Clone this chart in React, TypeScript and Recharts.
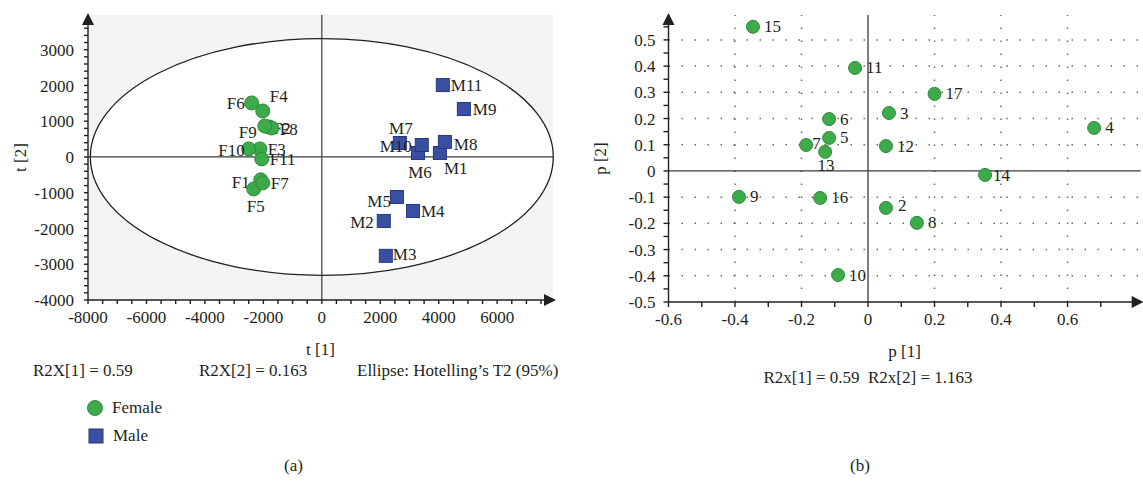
import React from 'react'
import {
  ScatterChart,
  Scatter,
  XAxis,
  YAxis,
  ReferenceLine,
  ReferenceArea,
  ReferenceDot,
} from 'recharts'

// (a) score plot, t[1] / t[2]
const femaleNames = ['F1', 'F2', 'F3', 'F4', 'F5', 'F6', 'F7', 'F8', 'F9', 'F10', 'F11']
const femaleT1 = [-2090, -1815, -2120, -2020, -2330, -2400, -2020, -1710, -1950, -2500, -2055]
const femaleT2 = [-640, 840, 225, 1285, -895, 1510, -725, 810, 865, 225, -55]

const maleNames = ['M1', 'M2', 'M3', 'M4', 'M5', 'M6', 'M7', 'M8', 'M9', 'M10', 'M11']
const maleT1 = [4040, 2120, 2190, 3120, 2570, 3290, 2670, 4210, 4860, 3420, 4140]
const maleT2 = [110, -1790, -2765, -1510, -1120, 110, 390, 420, 1340, 335, 2010]

// (b) loading plot, p[1] / p[2]
const varNames = ['2', '3', '4', '5', '6', '7', '8', '9', '10', '11', '12', '13', '14', '15', '16', '17']
const varP1 = [0.054, 0.063, 0.68, -0.117, -0.117, -0.186, 0.147, -0.388, -0.09, -0.039, 0.054, -0.129, 0.352, -0.346, -0.144, 0.2]
const varP2 = [-0.141, 0.221, 0.164, 0.126, 0.198, 0.099, -0.198, -0.099, -0.397, 0.393, 0.095, 0.073, -0.015, 0.55, -0.103, 0.294]

const scoreXLabels = [-8000, -6000, -4000, -2000, 0, 2000, 4000, 6000]
const scoreYLabels = [-4000, -3000, -2000, -1000, 0, 1000, 2000, 3000]
const loadXLabels = [-0.6, -0.4, -0.2, 0, 0.2, 0.4, 0.6]
const loadYLabels = [-0.5, -0.4, -0.3, -0.2, -0.1, 0, 0.1, 0.2, 0.3, 0.4, 0.5]
const loadGridX = [-0.4, -0.2, 0.2, 0.4, 0.6]
const loadGridY = [-0.4, -0.3, -0.2, -0.1, 0.1, 0.2, 0.3, 0.4, 0.5]

// label placement next to each mark: [dx, dy, anchor]
type Place = [number, number, 'start' | 'middle' | 'end']
const scorePlace: Record<string, Place> = {
  F1: [-11, 3, 'end'], F2: [4, 2, 'start'], F3: [8, 1, 'start'], F4: [7, -15, 'start'],
  F5: [2, 18, 'middle'], F6: [-7, 1, 'end'], F7: [8, 1, 'start'], F8: [8, 2, 'start'],
  F9: [-8, 6, 'end'], F10: [-4, 2, 'end'], F11: [8, 1, 'start'],
  M1: [4, 15, 'start'], M2: [-10, 2, 'end'], M3: [7, -1, 'start'], M4: [8, 1, 'start'],
  M5: [-6, 4, 'end'], M6: [2, 19, 'middle'], M7: [1, -15, 'middle'], M8: [9, 3, 'start'],
  M9: [9, 0, 'start'], M10: [-10, 2, 'end'], M11: [8, 0, 'start'],
}
const loadPlace: Record<string, Place> = {
  '13': [1, 14, 'middle'], '7': [6, -2, 'start'], '14': [8, 1, 'start'], '2': [12, -2, 'start'],
}

const INK = '#231f20'
const GREEN = '#3dab4a'
const GREEN_EDGE = '#2e8a3c'
const BLUE = '#3b4fa2'
const BLUE_EDGE = '#26377f'
const FONT = '"Liberation Serif", "DejaVu Serif", serif'

const minorTicks = (lo: number, hi: number, step: number) => {
  const out: number[] = []
  for (let v = lo; v <= hi + step / 10; v += step) out.push(Math.round(v * 1000) / 1000)
  return out
}

const scoreFemale = femaleNames.map((name, i) => ({ name, x: femaleT1[i], y: femaleT2[i] }))
const scoreMale = maleNames.map((name, i) => ({ name, x: maleT1[i], y: maleT2[i] }))
const loadings = varNames.map((name, i) => ({ name, x: varP1[i], y: varP2[i] }))

const PointLabel = ({ cx, cy, name, place }: { cx: number; cy: number; name: string; place: Place }) => (
  <text
    x={cx + place[0]}
    y={cy + place[1]}
    textAnchor={place[2]}
    dominantBaseline="central"
    fontFamily={FONT}
    fontSize={17}
    fill={INK}
  >
    {name}
  </text>
)

const circleShape = (r: number, places: Record<string, Place>, fallback: Place) => (props: any) => {
  const { cx, cy, payload } = props
  const place = places[payload.name] || fallback
  return (
    <g>
      <circle cx={cx} cy={cy} r={r} fill={GREEN} stroke={GREEN_EDGE} strokeWidth={1} />
      <PointLabel cx={cx} cy={cy} name={payload.name} place={place} />
    </g>
  )
}

const squareShape = (props: any) => {
  const { cx, cy, payload } = props
  return (
    <g>
      <rect x={cx - 6.5} y={cy - 6.5} width={13} height={13} fill={BLUE} stroke={BLUE_EDGE} strokeWidth={1} />
      <PointLabel cx={cx} cy={cy} name={payload.name} place={scorePlace[payload.name]} />
    </g>
  )
}

const makeTick = (labels: number[], axis: 'x' | 'y', fmt: (v: number) => string) => (props: any) => {
  const { x, y, payload } = props
  if (!labels.some((l) => Math.abs(l - payload.value) < 1e-6)) return <g />
  return (
    <text
      x={x}
      y={y}
      dy={axis === 'x' ? '0.75em' : '0.36em'}
      textAnchor={axis === 'x' ? 'middle' : 'end'}
      fontFamily={FONT}
      fontSize={17}
      fill={INK}
    >
      {fmt(payload.value)}
    </text>
  )
}

const upArrow = (props: any) => (
  <polygon points={`${props.cx},${props.cy - 2} ${props.cx - 6},${props.cy + 10} ${props.cx + 6},${props.cy + 10}`} fill={INK} />
)
const rightArrow = (props: any) => (
  <polygon points={`${props.cx + 3},${props.cy} ${props.cx - 9},${props.cy - 6} ${props.cx - 9},${props.cy + 6}`} fill={INK} />
)

const ellipseShape = (props: any) => {
  const { x, y, width, height } = props
  return (
    <ellipse cx={x + width / 2} cy={y + height / 2} rx={width / 2} ry={height / 2} fill="#ffffff" stroke={INK} strokeWidth={1.3} />
  )
}

const yTitle = (text: string) => (props: any) => {
  const vb = props.viewBox
  const cx = vb.x + 12
  const cy = vb.y + vb.height / 2
  return (
    <text x={cx} y={cy} transform={`rotate(-90 ${cx} ${cy})`} textAnchor="middle" dominantBaseline="central" fontFamily={FONT} fontSize={17} fill={INK}>
      {text}
    </text>
  )
}
const xTitle = (text: string) => (props: any) => {
  const vb = props.viewBox
  return (
    <text x={vb.x + vb.width / 2} y={vb.y + 55} textAnchor="middle" fontFamily={FONT} fontSize={17} fill={INK}>
      {text}
    </text>
  )
}

const caption: React.CSSProperties = {
  position: 'absolute',
  fontFamily: FONT,
  fontSize: 17,
  color: INK,
  lineHeight: '20px',
  whiteSpace: 'pre',
}

const axisLine = { stroke: INK, strokeWidth: 1.4 }

export default function App() {
  const sXMin = -8000
  const sXMax = 7910
  const sYMin = -4000
  const sYMax = 3970
  const lXMin = -0.6
  const lXMax = 0.82
  const lYMin = -0.5
  const lYMax = 0.595

  return (
    <div style={{ position: 'absolute', left: 0, top: 0, width: 1143, height: 481, background: '#fff' }}>
      <div style={{ position: 'absolute', left: 0, top: 0 }}>
        <ScatterChart width={570} height={481} margin={{ top: 15, right: 17, bottom: 121, left: 8 }}>
          <XAxis
            type="number"
            dataKey="x"
            domain={[sXMin, sXMax]}
            allowDataOverflow
            ticks={minorTicks(-8000, 7500, 500)}
            interval={0}
            tick={makeTick(scoreXLabels, 'x', (v) => String(v))}
            tickSize={4}
            tickMargin={6}
            tickLine={axisLine}
            axisLine={axisLine}
            height={60}
            label={{ content: xTitle('t [1]') }}
          />
          <YAxis
            type="number"
            dataKey="y"
            domain={[sYMin, sYMax]}
            allowDataOverflow
            ticks={minorTicks(-4000, 3800, 200)}
            interval={0}
            tick={makeTick(scoreYLabels, 'y', (v) => String(v))}
            tickSize={4}
            tickMargin={10}
            tickLine={axisLine}
            axisLine={axisLine}
            width={80}
            label={{ content: yTitle('t [2]') }}
          />
          <ReferenceArea x1={sXMin} x2={sXMax} y1={sYMin} y2={sYMax} fill="#f3f5f5" fillOpacity={1} stroke="none" ifOverflow="visible" />
          <ReferenceArea x1={-7920} x2={7920} y1={-3310} y2={3310} shape={ellipseShape} ifOverflow="visible" />
          <ReferenceLine y={0} stroke="#3a3a3a" strokeWidth={1.2} />
          <ReferenceLine x={0} stroke="#3a3a3a" strokeWidth={1.2} />
          <ReferenceDot x={sXMin} y={sYMax} shape={upArrow} ifOverflow="visible" />
          <ReferenceDot x={sXMax} y={sYMin} shape={rightArrow} ifOverflow="visible" />
          <Scatter name="Female" data={scoreFemale} shape={circleShape(7, scorePlace, [8, 0, 'start'])} isAnimationActive={false} />
          <Scatter name="Male" data={scoreMale} shape={squareShape} isAnimationActive={false} />
        </ScatterChart>
      </div>

      <div style={{ ...caption, left: 33, top: 361 }}>R2X[1] = 0.59</div>
      <div style={{ ...caption, left: 199, top: 361 }}>R2X[2] = 0.163</div>
      <div style={{ ...caption, left: 357, top: 361 }}>Ellipse: Hotelling’s T2 (95%)</div>

      <div style={{ position: 'absolute', left: 86, top: 394, fontFamily: FONT, fontSize: 17, color: INK }}>
        <div style={{ display: 'flex', alignItems: 'center', height: 28 }}>
          <svg width={18} height={18} style={{ marginRight: 8 }}>
            <circle cx={9} cy={9} r={7.5} fill={GREEN} stroke={GREEN_EDGE} />
          </svg>
          Female
        </div>
        <div style={{ display: 'flex', alignItems: 'center', height: 28 }}>
          <svg width={18} height={18} style={{ marginRight: 9 }}>
            <rect x={3} y={2} width={14} height={14} fill={BLUE} stroke={BLUE_EDGE} />
          </svg>
          Male
        </div>
      </div>

      <div style={{ ...caption, left: 284, top: 456 }}>(a)</div>

      <div style={{ position: 'absolute', left: 580, top: 0 }}>
        <ScatterChart width={563} height={481} margin={{ top: 15, right: 2.3, bottom: 119, left: 8.5 }}>
          <XAxis
            type="number"
            dataKey="x"
            domain={[lXMin, lXMax]}
            allowDataOverflow
            ticks={minorTicks(-0.6, 0.7, 0.1)}
            interval={0}
            tick={makeTick(loadXLabels, 'x', (v) => String(v))}
            tickSize={5}
            tickMargin={5}
            tickLine={axisLine}
            axisLine={axisLine}
            height={60}
            label={{ content: xTitle('p [1]') }}
          />
          <YAxis
            type="number"
            dataKey="y"
            domain={[lYMin, lYMax]}
            allowDataOverflow
            ticks={minorTicks(-0.5, 0.55, 0.05)}
            interval={0}
            tick={makeTick(loadYLabels, 'y', (v) => String(v))}
            tickSize={5}
            tickMargin={8}
            tickLine={axisLine}
            axisLine={axisLine}
            width={80}
            label={{ content: yTitle('p [2]') }}
          />
          {loadGridY.map((v) => (
            <ReferenceLine key={`gy${v}`} y={v} stroke="#6a6a6a" strokeWidth={1.5} strokeDasharray="1.5 11.5" />
          ))}
          {loadGridX.map((v) => (
            <ReferenceLine key={`gx${v}`} x={v} stroke="#6a6a6a" strokeWidth={1.5} strokeDasharray="1.5 11.5" />
          ))}
          <ReferenceLine y={0} stroke="#3a3a3a" strokeWidth={1.3} />
          <ReferenceLine x={0} stroke="#3a3a3a" strokeWidth={1.3} />
          <ReferenceDot x={lXMin} y={lYMax} shape={upArrow} ifOverflow="visible" />
          <ReferenceDot x={lXMax} y={lYMin} shape={rightArrow} ifOverflow="visible" />
          <Scatter name="Variables" data={loadings} shape={circleShape(6.5, loadPlace, [11, 0, 'start'])} isAnimationActive={false} />
        </ScatterChart>
      </div>

      <div style={{ ...caption, left: 868, top: 368, transform: 'translateX(-50%)' }}>R2x[1] = 0.59  R2x[2] = 1.163</div>
      <div style={{ ...caption, left: 850, top: 456 }}>(b)</div>
    </div>
  )
}
